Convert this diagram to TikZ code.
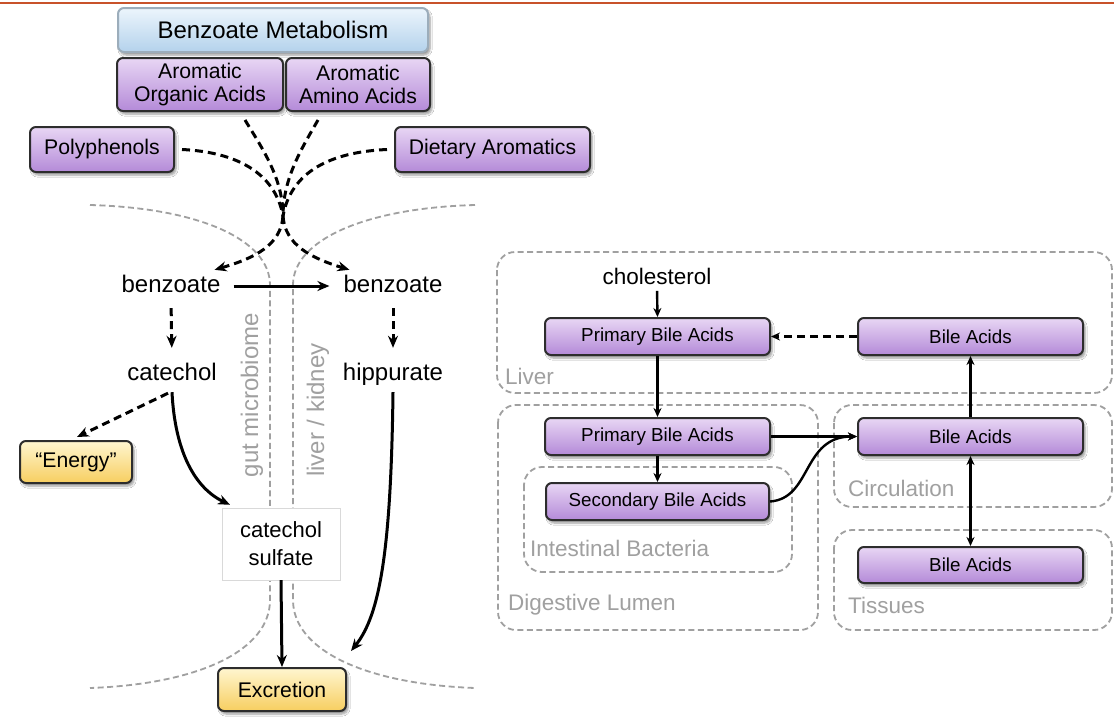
\documentclass[tikz,border=0pt]{standalone}
\usepackage{fontspec}
\setmainfont{Liberation Sans}
\usetikzlibrary{arrows.meta,shadows.blur}

\definecolor{rule}{RGB}{200,82,42}
\definecolor{pTop}{RGB}{232,214,244}
\definecolor{pBot}{RGB}{180,138,216}
\definecolor{yTop}{RGB}{255,246,208}
\definecolor{yBot}{RGB}{247,206,96}
\definecolor{bTop}{RGB}{236,245,252}
\definecolor{bBot}{RGB}{180,210,236}
\definecolor{edge}{RGB}{45,45,45}
\definecolor{zone}{RGB}{160,160,160}

\tikzset{
  box/.style={rounded corners=6pt, draw=edge, line width=2pt,
    blur shadow={shadow xshift=2pt, shadow yshift=-3pt, shadow blur steps=6, shadow opacity=40},
    align=center, inner sep=2pt},
  purplebox/.style={box, top color=pTop, bottom color=pBot},
  yellowbox/.style={box, top color=yTop, bottom color=yBot},
  bluebox/.style={box, draw=bBot!55!gray, top color=bTop, bottom color=bBot},
  bigfont/.style={font=\fontsize{24}{26}\selectfont},
  midfont/.style={font=\fontsize{21.2}{26}\selectfont},
  smallfont/.style={font=\fontsize{18.8}{22}\selectfont},
  chem/.style={bigfont, text height=17pt, text depth=5pt, inner sep=2pt},
  zonelabel/.style={text=zone, font=\fontsize{22.5}{25}\selectfont, anchor=west, inner sep=0pt},
  zoneline/.style={draw=zone, line width=1.8pt, dash pattern=on 6pt off 3.5pt},
  region/.style={zoneline, rounded corners=18pt},
  flow/.style={line width=3pt, -{Stealth[length=12pt,width=10pt]}},
  dashes/.style={line width=3pt, dash pattern=on 8pt off 5pt},
  dflow/.style={flow, dash pattern=on 8pt off 5pt},
  rflow/.style={line width=2.4pt, -{Stealth[length=9pt,width=8pt]}},
}

\begin{document}
\begin{tikzpicture}[x=1pt,y=-1pt]
\useasboundingbox (0,0) rectangle (1114,721);
\fill[white] (0,0) rectangle (1114,721);
\draw[rule, line width=2.2pt] (0,3) -- (1114,3);

% ---------- benzoate pathway: compartment boundaries ----------
\draw[zoneline] (90,205) .. controls (200,208) and (270,240) .. (270,285)
  -- (270,600) .. controls (270,650) and (200,684) .. (90,688);
\draw[zoneline] (475,205) .. controls (365,208) and (293,240) .. (293,285)
  -- (293,600) .. controls (293,650) and (365,684) .. (475,688);
\node[rotate=90, text=zone, bigfont] (gm) at (252,395) {gut microbiome};
\node[rotate=90, text=zone, bigfont] (lk) at (318,410) {liver / kidney};

% ---------- sources ----------
\node[bluebox, minimum width=310pt, minimum height=44pt, bigfont] (bm) at (273,30) {Benzoate Metabolism};
\node[purplebox, minimum width=166pt, minimum height=53pt, midfont] (aoa) at (200,84.5) {Aromatic\\[-3pt]Organic Acids};
\node[purplebox, minimum width=144pt, minimum height=53pt, midfont] (aaa) at (358,84.5) {Aromatic\\[-3pt]Amino Acids};
\node[purplebox, minimum width=144pt, minimum height=45pt, midfont] (poly) at (102,149.5) {Polyphenols};
\node[purplebox, minimum width=195pt, minimum height=45pt, midfont] (diet) at (492.5,149.5) {Dietary Aromatics};

% ---------- metabolites ----------
\node[chem] (bzL) at (171,286) {benzoate};
\node[chem] (bzR) at (393,286) {benzoate};
\node[chem] (cat) at (172,374) {catechol};
\node[chem] (hip) at (393,374) {hippurate};
\node[yellowbox, minimum width=112pt, minimum height=42pt, midfont] (energy) at (76,462) {“Energy”};
\node[draw=black!15, fill=white, minimum width=118pt, minimum height=72pt, align=center,
      font=\fontsize{22}{28}\selectfont] (cs) at (281,544) {catechol\\sulfate};
\node[yellowbox, minimum width=128pt, minimum height=43pt, midfont] (exc) at (282,689.5) {Excretion};

% ---------- converging dietary inputs ----------
\coordinate (j) at (283,216);
\draw[dashes] ([xshift=7pt]poly.east) .. controls (235,152) and (275,172) .. (j);
\draw[dashes] ([xshift=-7pt]diet.west) .. controls (330,152) and (291,172) .. (j);
\draw[dashes] ([shift={(45,8)}]aoa.south) .. controls (262,148) and (283,178) .. (j);
\draw[dashes] ([shift={(-40,8)}]aaa.south) .. controls (302,148) and (283,178) .. (j);
\draw[dflow] (j) .. controls (281,245) and (255,258) .. ([shift={(-8,-3)}]bzL.north east);
\draw[dflow] (j) .. controls (285,245) and (311,258) .. ([shift={(8,-3)}]bzR.north west);

% ---------- benzoate conversions ----------
\draw[flow, shorten <=11pt, shorten >=12pt] (bzL.east) -- (bzR.west);
\draw[dflow, shorten <=9pt, shorten >=13pt] (bzL.south) -- (cat.north);
\draw[dflow, shorten <=9pt, shorten >=13pt] (bzR.south) -- (hip.north);
\draw[dflow] ([shift={(-4,6)}]cat.south) -- ([shift={(1,-3)}]energy.north);
\draw[flow] ([shift={(0,5)}]cat.south) .. controls (175,452) and (195,488) .. ([shift={(-51,-3)}]cs.north);
\draw[flow] (cs.south) -- (exc.north);
\draw[flow] ([shift={(0,5)}]hip.south) .. controls (391,550) and (380,615) .. ([shift={(4,-16)}]exc.north east);

% ---------- bile acid cycle: compartments ----------
\draw[region] (497,252) rectangle (1112,393);
\draw[region] (498,405) rectangle (818,630);
\draw[region] (524,467) rectangle (792,572);
\draw[region] (834,405) rectangle (1112,507);
\draw[region] (834,530) rectangle (1112,630);
\node[zonelabel] (lLiver) at (505,376) {Liver};
\node[zonelabel] (lLumen) at (508,605) {Digestive Lumen};
\node[zonelabel] (lBact) at (530,548) {Intestinal Bacteria};
\node[zonelabel] (lCirc) at (848,488) {Circulation};
\node[zonelabel] (lTis) at (848,605) {Tissues};

% ---------- bile acid pools ----------
\node[font=\fontsize{22.5}{24}\selectfont] (chol) at (657,276) {cholesterol};
\node[purplebox, minimum width=225pt, minimum height=37pt, smallfont] (pL) at (657.5,336.5) {Primary Bile Acids};
\node[purplebox, minimum width=225pt, minimum height=37pt, smallfont] (bL) at (970.5,336.5) {Bile Acids};
\node[purplebox, minimum width=225pt, minimum height=37pt, smallfont] (pD) at (657.5,436.5) {Primary Bile Acids};
\node[purplebox, minimum width=223pt, minimum height=37pt, smallfont] (sec) at (657.5,501.5) {Secondary Bile Acids};
\node[purplebox, minimum width=225pt, minimum height=37pt, smallfont] (bC) at (970.5,436.5) {Bile Acids};
\node[purplebox, minimum width=225pt, minimum height=36pt, smallfont] (bT) at (970.5,565) {Bile Acids};

% ---------- bile acid flows ----------
\draw[rflow, shorten <=3pt] (chol.south) -- (pL.north);
\draw[rflow, dash pattern=on 8pt off 5pt] (bL.west) -- (pL.east);
\draw[rflow] (pL.south) -- (pD.north);
\draw[rflow] (pD.south) -- (sec.north);
\draw[rflow] (pD.east) -- (bC.west);
\draw[rflow] (sec.east) .. controls +(42,-3) and +(-55,0) .. (bC.west);
\draw[rflow] (bC.north) -- (bL.south);
\draw[rflow, {Stealth[length=9pt,width=8pt]}-{Stealth[length=9pt,width=8pt]}] (bC.south) -- (bT.north);
\end{tikzpicture}
\end{document}
